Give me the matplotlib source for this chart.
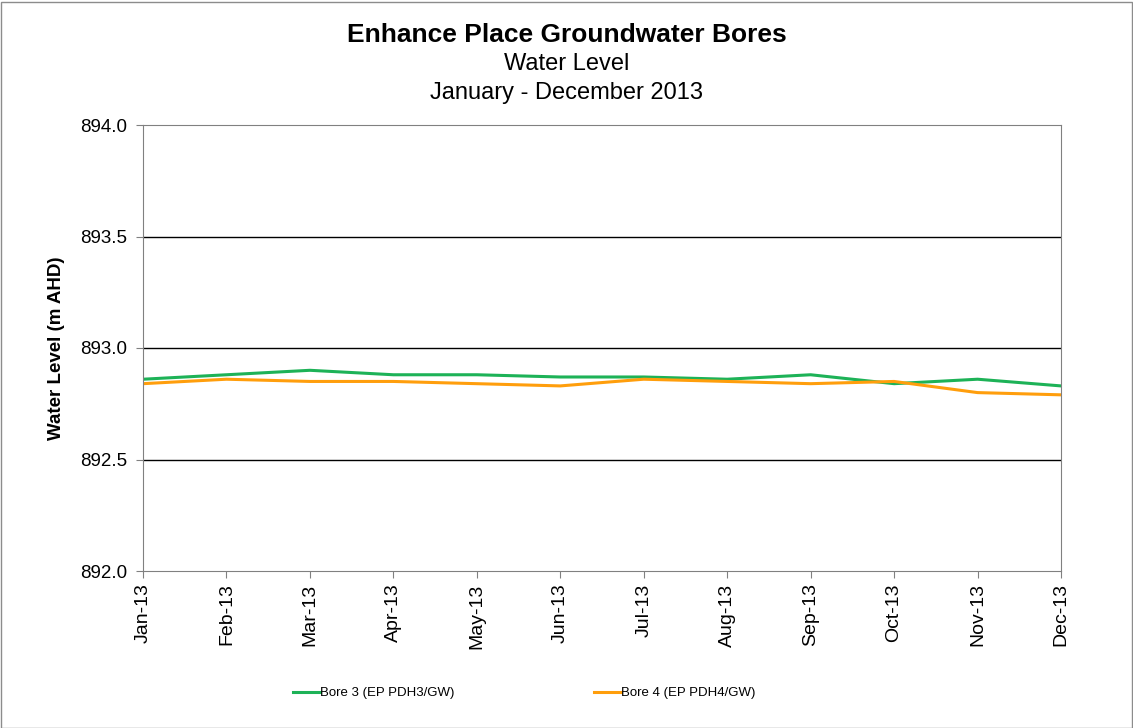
import matplotlib
matplotlib.use("Agg")
import matplotlib.pyplot as plt
from matplotlib.patches import Rectangle

plt.rcParams['font.family'] = ['Liberation Sans', 'DejaVu Sans']

months = ["Jan-13", "Feb-13", "Mar-13", "Apr-13", "May-13", "Jun-13",
          "Jul-13", "Aug-13", "Sep-13", "Oct-13", "Nov-13", "Dec-13"]
bore3 = [892.86, 892.88, 892.90, 892.88, 892.88, 892.87,
         892.87, 892.86, 892.88, 892.84, 892.86, 892.83]
bore4 = [892.84, 892.86, 892.85, 892.85, 892.84, 892.83,
         892.86, 892.85, 892.84, 892.85, 892.80, 892.79]
yticks = [892.0, 892.5, 893.0, 893.5, 894.0]

W, H = 1133, 728
fig = plt.figure(figsize=(W / 100, H / 100), dpi=100)
fig.patches.append(Rectangle((0.5 / W, 0.5 / H), 1 - 2 / W, 1 - 2 / H, transform=fig.transFigure,
                             fill=False, edgecolor='#8c8c8c', linewidth=1))

ax = fig.add_axes([143 / W, 1 - 571 / H, (1061 - 143) / W, (571 - 125) / H])
x = list(range(len(months)))
l3, = ax.plot(x, bore3, color='#1db257', linewidth=2.2, label='Bore 3 (EP PDH3/GW)')
l4, = ax.plot(x, bore4, color='#ff9e0c', linewidth=2.2, label='Bore 4 (EP PDH4/GW)')

ax.set_xlim(0, len(months) - 1)
ax.set_ylim(892.0, 894.0)
ax.set_yticks(yticks)
ax.set_yticklabels([f"{v:.1f}" for v in yticks], fontsize=13.5)
ax.set_xticks(x)
ax.set_xticklabels(months, rotation=90, fontsize=14)
for v in yticks[1:-1]:
    ax.axhline(v, color='black', linewidth=1, zorder=0)
for s in ax.spines.values():
    s.set_color('#808080')
ax.tick_params(axis='y', direction='out', length=5, color='#808080', pad=6.5)
ax.tick_params(axis='x', direction='out', length=5, color='#808080', pad=4)
ax.set_ylabel('Water Level (m AHD)', fontsize=13.5, fontweight='bold')
ax.yaxis.set_label_coords(-0.085, 0.5)

fig.text(0.5, 1 - 35 / H, 'Enhance Place Groundwater Bores', ha='center', va='center',
         fontsize=19, fontweight='bold')
fig.text(0.5, 1 - 64 / H, 'Water Level', ha='center', va='center', fontsize=17)
fig.text(0.5, 1 - 93 / H, 'January - December 2013', ha='center', va='center', fontsize=17)

for line, x0 in ((l3, 293), (l4, 594)):
    fig.legend([line], [line.get_label()], loc='center left',
               bbox_to_anchor=(x0 / W, 1 - 693 / H), frameon=False, fontsize=9.5,
               handlelength=2.05, handletextpad=0.0, borderpad=0, borderaxespad=0)

fig.savefig('out.png', dpi=100)
